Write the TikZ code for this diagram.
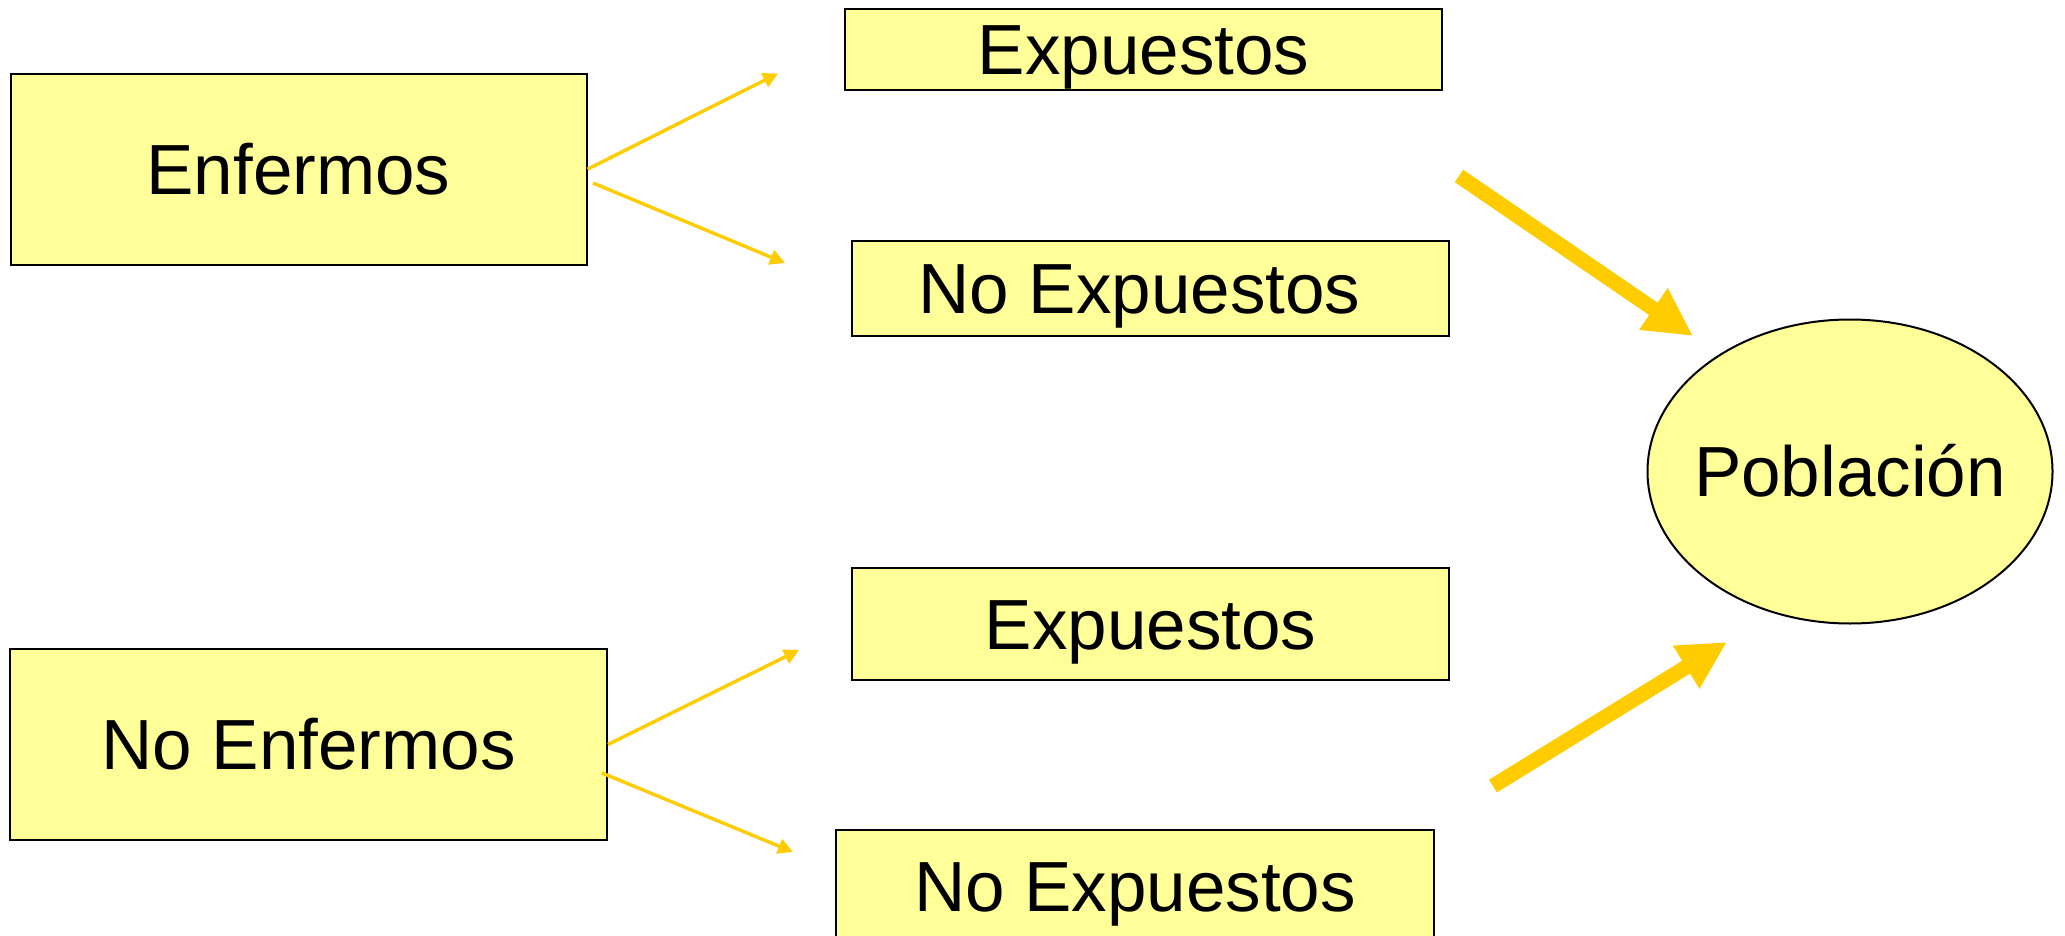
\documentclass[tikz,border=0pt]{standalone}
\usepackage{fontspec}
\setmainfont{Liberation Sans}
\usetikzlibrary{arrows.meta,shapes.geometric}
\definecolor{boxfill}{HTML}{FFFF99}
\definecolor{arrowgold}{HTML}{FFCC00}

\begin{document}
\begin{tikzpicture}[x=0.5pt,y=-0.5pt,
  label text/.style={font=\fontsize{35.5}{40}\selectfont, text height=25.4pt, text depth=0pt, inner sep=0pt},
  box/.style={label text, draw=black, line width=1pt, fill=boxfill, rectangle},
  oval/.style={label text, draw=black, line width=1pt, fill=boxfill, ellipse,
    inner xsep=-7pt, minimum width=202.5pt, minimum height=152pt},
  thinarrow/.style={draw=arrowgold, line width=1.7pt, -{Triangle[length=7.5pt,width=7.5pt]}},
  bigarrow/.style={draw=arrowgold, line width=7.5pt, -{Triangle[length=24pt,width=23.5pt]}}]

\useasboundingbox (0,0) rectangle (2065,936);
\clip (0,0) rectangle (2065,936);

% left column
\node[box, minimum width=288pt, minimum height=95.5pt] (enf) at (298.5,169.2) {Enfermos};
\node[box, minimum width=298.25pt, minimum height=95.5pt] (nenf) at (308.7,744.5) {No Enfermos};

% middle column
\node[box, minimum width=298.25pt, minimum height=40.2pt] (exp1) at (1143.7,49.4) {Expuestos};
\node[box, minimum width=298.5pt, minimum height=47.5pt] (nexp1) at (1150.5,288.5) {No Expuestos\hspace*{11pt}};
\node[box, minimum width=298.5pt, minimum height=56pt] (exp2) at (1150.5,623.6) {Expuestos};
\node[box, minimum width=299pt, minimum height=56pt] (nexp2) at (1135,886) {No Expuestos};

% right
\node[oval] (pob) at (1850,471.5) {Población};

% arrow ends
\coordinate (e1) at (778,73.5);
\coordinate (s2) at (593,183);
\coordinate (e2) at (785,263);
\coordinate (e3) at (799,650);
\coordinate (s4) at (602,773);
\coordinate (e4) at (793,852);
\coordinate (b1s) at (1459,176);
\coordinate (b1e) at (1693,336);
\coordinate (b2s) at (1493,786);
\coordinate (b2e) at (1727,642);

\draw[thinarrow] (enf.east) -- (e1);
\draw[thinarrow] (s2) -- (e2);
\draw[thinarrow] (nenf.east) -- (e3);
\draw[thinarrow] (s4) -- (e4);

\draw[bigarrow] (b1s) -- (b1e);
\draw[bigarrow] (b2s) -- (b2e);
\end{tikzpicture}
\end{document}
